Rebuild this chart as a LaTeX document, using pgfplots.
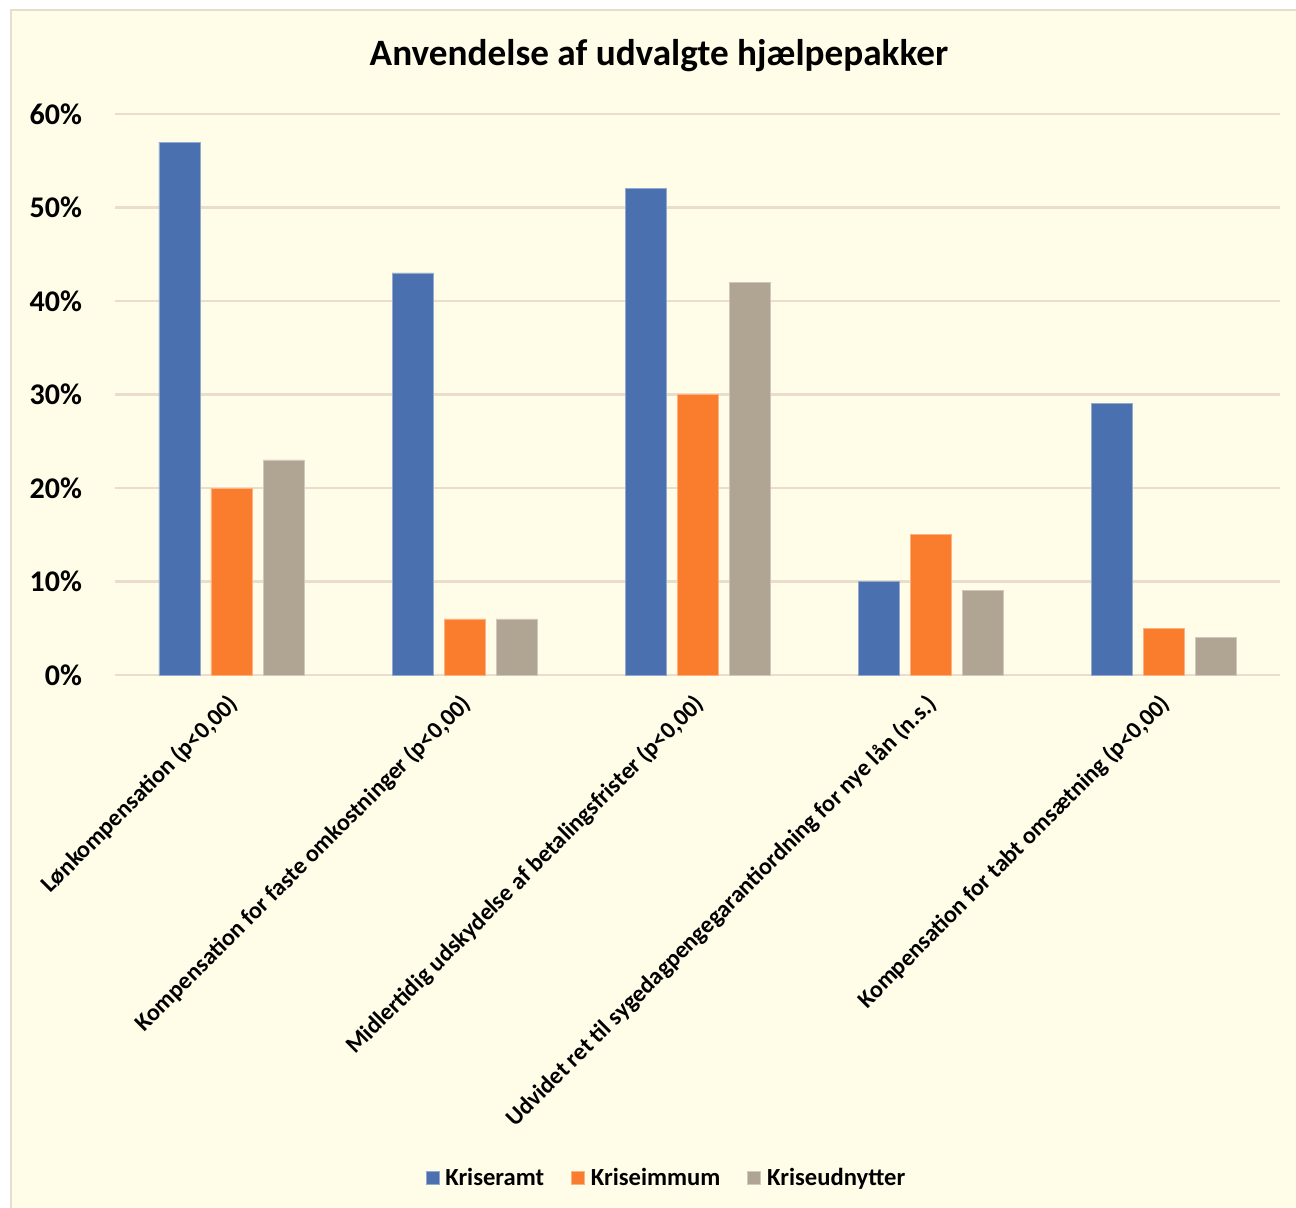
\documentclass[border=0pt]{standalone}
\usepackage{fontspec}
\setmainfont{Carlito}
\usepackage{pgfplots}
\pgfplotsset{compat=1.18}
\definecolor{panel}{RGB}{255,253,232}
\definecolor{panelborder}{RGB}{232,221,204}
\definecolor{gridc}{RGB}{234,221,205}
\definecolor{cA}{RGB}{74,112,176}
\definecolor{cB}{RGB}{250,125,45}
\definecolor{cC}{RGB}{176,164,146}
\begin{document}
\begin{tikzpicture}[x=1pt,y=1pt]
\useasboundingbox (0,0) rectangle (648,603.5);
\fill[white] (0,0) rectangle (648,603.5);
\draw[panelborder, line width=1.2pt, fill=panel] (5.6,-3) rectangle (652,598.4);
\node[font=\bfseries\fontsize{18.6}{20}\selectfont, anchor=center] at (329.5,575.5) {Anvendelse af udvalgte hjælpepakker};
\begin{axis}[
  at={(57.5pt,266pt)}, anchor=south west,
  scale only axis, width=582.5pt, height=280.5pt,
  xmin=-0.5, xmax=4.5, ymin=0, ymax=60,
  axis line style={draw=none},
  major tick length=0pt,
  ymajorgrids, grid style={gridc, line width=1.1pt},
  ytick={0,10,20,30,40,50,60},
  yticklabels={0\%,10\%,20\%,30\%,40\%,50\%,60\%},
  yticklabel style={font=\bfseries\fontsize{15}{17}\selectfont, anchor=east, xshift=-13pt},
  xtick={0,1,2,3,4},
  xticklabels={{Lønkompensation (p<0,00)}, {Kompensation for faste omkostninger (p<0,00)}, {Midlertidig udskydelse af betalingsfrister (p<0,00)}, {Udvidet ret til sygedagpengegarantiordning for nye lån (n.s.)}, {Kompensation for tabt omsætning (p<0,00)}},
  xticklabel style={font=\bfseries\fontsize{12}{14}\selectfont, rotate=45, anchor=north east, inner sep=0pt, xshift=-7.9pt, yshift=-4.2pt},
  ybar, bar width=20.5pt,
  legend style={at={(0.475,-0.897)}, anchor=center, draw=none, fill=none, legend columns=3,
    font=\bfseries\fontsize{12.3}{14}\selectfont, /tikz/every even column/.append style={column sep=10.5pt},
    nodes={inner xsep=3pt}},
  legend image code/.code={\fill[#1] (0pt,-3.2pt) rectangle (6.5pt,3.3pt);},
]
\addplot[fill=cA, draw=cA!60!white, line width=0.4pt, bar shift=-26pt] coordinates {(0,57) (1,43) (2,52) (3,10) (4,29)};
\addplot[fill=cB, draw=cB!60!white, line width=0.4pt, bar shift=0pt] coordinates {(0,20) (1,6) (2,30) (3,15) (4,5)};
\addplot[fill=cC, draw=cC!60!white, line width=0.4pt, bar shift=26pt] coordinates {(0,23) (1,6) (2,42) (3,9) (4,4)};
\legend{Kriseramt, Kriseimmum, Kriseudnytter}
\end{axis}
\end{tikzpicture}
\end{document}
